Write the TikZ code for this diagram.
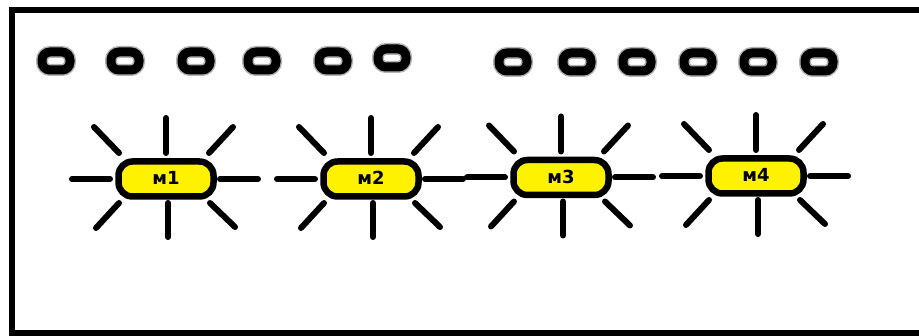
\documentclass[tikz,border=0pt]{standalone}
\usepackage{fontspec}
\setmainfont{DejaVu Sans}
\begin{document}
\begin{tikzpicture}[x=1pt,y=-1pt,
  frame/.style={line width=6.5pt},
  bead/.style={draw, line width=9pt, rounded corners=8pt, minimum width=28pt,
    minimum height=18pt, inner sep=0pt,
    preaction={draw, line width=12pt, black!30}},
  lamp/.style={draw, line width=6.5pt, fill=yellow, rounded corners=14pt,
    minimum width=95pt, minimum height=35pt, inner sep=0pt,
    font=\fontsize{18}{20}\selectfont\bfseries},
  ray/.style={line width=6pt, line cap=round}]
\useasboundingbox (0,0) rectangle (919,336);

% outer frame (runs past the right edge)
\draw[frame] (12,10) rectangle (940,333);

% row of beads, left group
\foreach \i/\x/\y in {1/56/61, 2/125/61, 3/196/61, 4/262/61, 5/333/61, 6/392/58}
  \node[bead] (bl\i) at (\x,\y) {};
% row of beads, right group
\foreach \i/\x in {1/513, 2/577, 3/637, 4/698, 5/758, 6/819}
  \node[bead] (br\i) at (\x,62) {};

% lamps
\node[lamp] (m1) at (166,179) {\raisebox{2pt}{м1}};
\node[lamp] (m2) at (371,179) {\raisebox{2pt}{м2}};
\node[lamp] (m3) at (561,177.5) {\raisebox{2pt}{м3}};
\node[lamp] (m4) at (756,176) {\raisebox{2pt}{м4}};

% rays around each lamp
\foreach \m in {m1,m2,m3,m4}
  \foreach \ax/\ay/\bx/\by in {0/-61/0/-26, 2/24/2/58, -94/0/-56/0, 54/0/92/0,
      -72/-52/-47/-26, 67/-52/43/-26, -47/24/-70/49, 44/24/69/48}
    \draw[ray] ([shift={(\ax,\ay)}]\m.center) -- ([shift={(\bx,\by)}]\m.center);
\end{tikzpicture}
\end{document}
